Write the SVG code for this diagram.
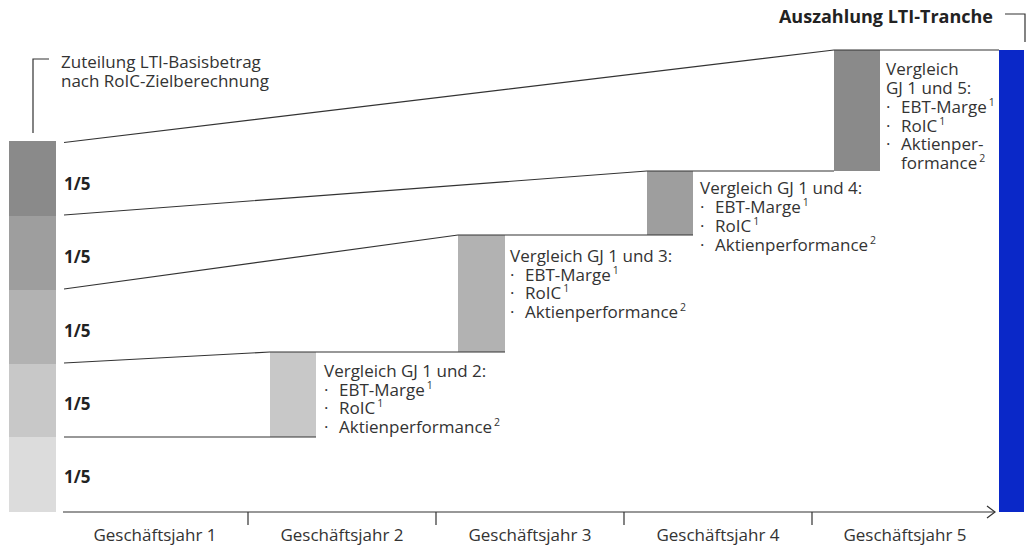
<svg xmlns="http://www.w3.org/2000/svg" width="1034" height="548" viewBox="0 0 1034 548">
<style>
text{font-family:"Open Sans","Noto Sans","Liberation Sans",sans-serif;fill:#333;font-size:17px}
.b{font-weight:bold;fill:#222}
.t{font-size:18px}
.ax{text-anchor:middle}
.sup{font-size:10.5px}
.ln{stroke:#333;stroke-width:1.2;fill:none}
</style>
<defs>
<marker id="arr" viewBox="0 0 10 14" refX="9" refY="7" markerWidth="10" markerHeight="14" markerUnits="userSpaceOnUse" orient="auto">
<path d="M1,1 L9,7 L1,13" fill="none" stroke="#333" stroke-width="1.2"/>
</marker>
</defs>
<g id="stack">
<rect x="9" y="141" width="47" height="75" fill="#8a8a8a"/>
<rect x="9" y="216" width="47" height="74" fill="#9e9e9e"/>
<rect x="9" y="290" width="47" height="74" fill="#b2b2b2"/>
<rect x="9" y="364" width="47" height="73" fill="#c8c8c8"/>
<rect x="9" y="437" width="47" height="75" fill="#dcdcdc"/>
<text class="b" x="64" y="190">1/5</text>
<text class="b" x="64" y="263">1/5</text>
<text class="b" x="64" y="337">1/5</text>
<text class="b" x="64" y="410">1/5</text>
<text class="b" x="64" y="483">1/5</text>
</g>
<g id="label-start">
<path class="ln" d="M33,133 V59 H49"/>
<text x="61" y="68">Zuteilung LTI-Basisbetrag<tspan x="61" y="87">nach RoIC-Zielberechnung</tspan></text>
</g>
<g id="label-end">
<text class="b t" x="993" y="23" text-anchor="end">Auszahlung LTI-Tranche</text>
<path class="ln" d="M1005,14 H1025 V42"/>
</g>
<g id="bar-gj2"><rect x="270" y="352" width="46" height="85" fill="#c8c8c8"/></g>
<g id="bar-gj3"><rect x="458" y="235" width="47" height="117" fill="#b2b2b2"/></g>
<g id="bar-gj4"><rect x="647" y="171" width="46" height="64" fill="#9e9e9e"/></g>
<g id="bar-gj5"><rect x="834" y="50" width="46" height="121" fill="#8a8a8a"/></g>
<g id="payout"><rect x="999" y="50" width="25" height="462" fill="#0a28c8"/></g>
<g id="connectors">
<path class="ln" d="M64,142.5 L834,50 H999"/>
<path class="ln" d="M64,215 L647,171 H834"/>
<path class="ln" d="M64,289 L458,235 H693"/>
<path class="ln" d="M64,363 L270,352 H505"/>
<path class="ln" d="M64,437 H316"/>
<path class="ln" d="M63,512 H995" marker-end="url(#arr)"/>
<path class="ln" d="M248,512 V525 M436,512 V525 M624,512 V525 M812,512 V525"/>
</g>
<g id="axis-labels">
<text class="ax" x="155" y="541">Geschäftsjahr 1</text>
<text class="ax" x="342" y="541">Geschäftsjahr 2</text>
<text class="ax" x="530" y="541">Geschäftsjahr 3</text>
<text class="ax" x="718" y="541">Geschäftsjahr 4</text>
<text class="ax" x="905" y="541">Geschäftsjahr 5</text>
</g>
<g id="text-gj2">
<text x="324" y="377">Vergleich GJ 1 und 2:<tspan x="324" y="396">·</tspan><tspan x="339">EBT-Marge</tspan><tspan class="sup" dx="2" dy="-7">1</tspan><tspan x="324" y="414">·</tspan><tspan x="339">RoIC</tspan><tspan class="sup" dx="2" dy="-7">1</tspan><tspan x="324" y="433">·</tspan><tspan x="339">Aktienperformance</tspan><tspan class="sup" dx="2" dy="-7">2</tspan></text>
</g>
<g id="text-gj3">
<text x="510" y="262">Vergleich GJ 1 und 3:<tspan x="510" y="281">·</tspan><tspan x="525">EBT-Marge</tspan><tspan class="sup" dx="2" dy="-7">1</tspan><tspan x="510" y="299">·</tspan><tspan x="525">RoIC</tspan><tspan class="sup" dx="2" dy="-7">1</tspan><tspan x="510" y="318">·</tspan><tspan x="525">Aktienperformance</tspan><tspan class="sup" dx="2" dy="-7">2</tspan></text>
</g>
<g id="text-gj4">
<text x="700" y="194">Vergleich GJ 1 und 4:<tspan x="700" y="213">·</tspan><tspan x="715">EBT-Marge</tspan><tspan class="sup" dx="2" dy="-7">1</tspan><tspan x="700" y="232">·</tspan><tspan x="715">RoIC</tspan><tspan class="sup" dx="2" dy="-7">1</tspan><tspan x="700" y="251">·</tspan><tspan x="715">Aktienperformance</tspan><tspan class="sup" dx="2" dy="-7">2</tspan></text>
</g>
<g id="text-gj5">
<text x="886" y="75">Vergleich<tspan x="886" y="94">GJ 1 und 5:</tspan><tspan x="886" y="113">·</tspan><tspan x="901">EBT-Marge</tspan><tspan class="sup" dx="2" dy="-7">1</tspan><tspan x="886" y="132">·</tspan><tspan x="901">RoIC</tspan><tspan class="sup" dx="2" dy="-7">1</tspan><tspan x="886" y="150">·</tspan><tspan x="901">Aktienper-</tspan><tspan x="901" y="169">formance</tspan><tspan class="sup" dx="2" dy="-7">2</tspan></text>
</g>
</svg>
